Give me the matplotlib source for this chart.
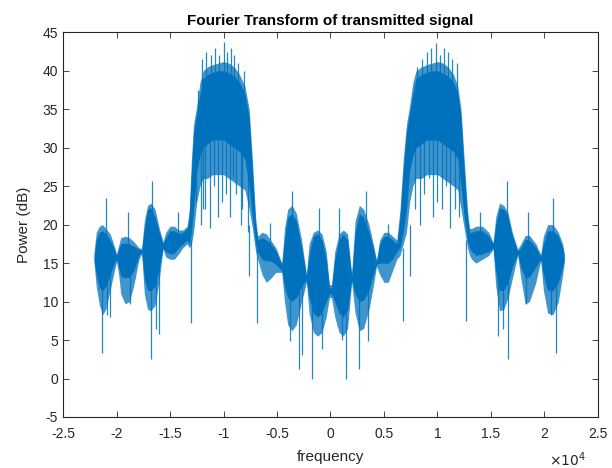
import matplotlib
matplotlib.use("Agg")
import matplotlib.pyplot as plt
from matplotlib.ticker import FuncFormatter

plt.rcParams['font.family'] = ['Liberation Sans', 'DejaVu Sans']
plt.rcParams['axes.unicode_minus'] = False

# Envelope anchors (frequency in kHz)
freq_khz = [-22.1, -21.9, -21.6, -21.3, -21.0, -20.6, -20.2, -20.0, -19.8, -19.6,
            -19.2, -18.8, -18.4, -17.9, -17.65, -17.4, -17.1, -16.8, -16.4, -16.0,
            -15.65, -15.4, -15.0, -14.6, -14.2, -13.8, -13.4, -13.2, -13.0, -12.8,
            -12.5, -12.2, -11.9, -11.5, -11.0, -10.5, -10.0, -9.5, -9.0, -8.5,
            -8.0, -7.6, -7.3, -7.0, -6.8, -6.4, -6.0, -5.6, -5.1, -4.55,
            -4.3, -4.0, -3.6, -3.2, -2.7, -2.25, -2.0, -1.6, -1.2, -0.8,
            -0.4, -0.1, 0.1, 0.4, 0.8, 1.2, 1.6, 1.98, 2.3, 2.7,
            3.1, 3.6, 4.0, 4.3, 4.6, 5.0, 5.4, 5.8, 6.2, 6.5,
            6.8, 7.1, 7.4, 7.7, 8.0, 8.5, 9.0, 9.5, 10.0, 10.5,
            11.0, 11.5, 11.9, 12.2, 12.5, 12.8, 13.0, 13.2, 13.6, 14.2,
            14.8, 15.2, 15.45, 15.8, 16.2, 16.6, 17.0, 17.5, 17.8, 18.2,
            18.6, 19.2, 19.65, 19.9, 20.3, 20.8, 21.3, 21.7, 21.85]

core_hi = [16.0, 18.0, 19.0, 19.2, 18.8, 18.0, 16.8, 16.0, 16.8, 17.5,
           17.6, 17.5, 17.2, 16.8, 16.7, 19.5, 22.0, 22.2, 21.0, 19.0,
           17.5, 18.3, 19.2, 19.2, 18.8, 19.0, 19.5, 21.0, 27.0, 32.0,
           34.5, 37.0, 39.0, 39.5, 39.8, 40.0, 40.0, 39.7, 39.3, 38.5,
           37.0, 34.0, 27.0, 20.0, 18.0, 18.3, 18.0, 17.5, 16.6, 14.8,
           18.0, 21.0, 21.4, 20.5, 17.0, 13.3, 16.0, 18.5, 18.8, 18.0,
           15.5, 11.8, 11.8, 15.5, 18.0, 18.8, 18.0, 13.3, 19.0, 21.4,
           21.0, 19.0, 17.0, 15.2, 17.5, 18.5, 18.5, 18.0, 17.5, 21.0,
           27.0, 32.0, 34.5, 37.0, 39.0, 39.5, 39.8, 40.0, 40.0, 39.7,
           39.3, 38.5, 37.0, 34.0, 27.0, 21.0, 19.0, 19.0, 19.2, 19.2,
           18.5, 17.5, 20.0, 22.2, 22.0, 21.0, 18.5, 16.6, 17.0, 18.1,
           18.0, 17.0, 15.9, 17.5, 19.2, 19.2, 18.5, 17.0, 16.0]

core_lo = [15.4, 13.5, 11.8, 11.4, 12.0, 13.5, 15.0, 15.5, 14.5, 13.3,
           13.1, 13.2, 14.0, 16.0, 16.4, 13.0, 11.5, 11.4, 12.0, 14.5,
           17.0, 16.5, 16.2, 16.3, 17.0, 17.5, 18.0, 17.5, 19.0, 22.0,
           27.0, 29.0, 30.0, 30.5, 31.0, 31.0, 31.0, 30.5, 30.0, 29.5,
           28.5, 25.0, 21.0, 17.5, 16.5, 15.5, 15.3, 15.3, 14.8, 14.0,
           12.0, 10.5, 10.0, 10.5, 12.0, 12.8, 10.5, 8.5, 8.0, 8.5,
           10.0, 11.0, 11.0, 10.0, 8.5, 8.0, 9.0, 12.8, 11.0, 10.0,
           10.2, 11.5, 13.5, 14.8, 15.0, 15.0, 15.0, 15.5, 16.5, 17.0,
           19.0, 22.0, 27.0, 29.0, 30.0, 30.5, 31.0, 31.0, 31.0, 30.5,
           30.0, 29.5, 28.5, 25.0, 21.0, 18.0, 17.0, 16.5, 16.0, 16.2,
           16.5, 17.0, 14.0, 11.4, 11.5, 12.5, 14.5, 16.2, 14.5, 13.1,
           13.2, 14.5, 15.5, 13.5, 11.5, 11.4, 12.5, 14.5, 15.4]

out_hi = [16.4, 19.0, 19.8, 20.0, 19.5, 18.8, 17.2, 16.2, 17.3, 18.3,
          18.5, 18.3, 17.8, 17.0, 16.9, 20.5, 22.5, 22.8, 22.0, 19.5,
          17.8, 19.0, 19.8, 19.8, 19.3, 19.3, 19.8, 22.0, 28.5, 33.0,
          35.5, 38.5, 40.0, 40.5, 40.8, 41.0, 41.2, 41.0, 40.5, 39.5,
          38.0, 35.0, 28.5, 21.0, 18.5, 19.0, 18.8, 18.0, 17.0, 15.0,
          19.5, 22.0, 22.5, 21.5, 18.0, 13.6, 17.5, 19.0, 19.3, 18.8,
          16.5, 12.2, 12.2, 16.5, 18.8, 19.3, 18.8, 13.6, 20.5, 22.5,
          22.0, 20.0, 17.5, 15.4, 18.0, 19.0, 19.0, 18.5, 18.0, 22.0,
          28.5, 33.0, 35.5, 38.5, 40.0, 40.5, 40.8, 41.0, 41.2, 41.0,
          40.5, 39.5, 38.0, 35.0, 28.5, 22.0, 19.5, 19.5, 19.8, 19.8,
          19.0, 17.7, 21.0, 22.8, 22.5, 21.5, 19.0, 16.8, 17.5, 18.6,
          18.6, 17.5, 16.1, 18.5, 20.0, 20.0, 19.0, 17.5, 16.3]

out_lo = [15.0, 12.0, 9.5, 8.3, 9.0, 11.5, 14.0, 15.2, 13.5, 11.0,
          9.7, 10.0, 12.0, 15.5, 16.2, 11.0, 9.0, 8.8, 9.5, 13.0,
          16.8, 15.8, 15.5, 15.5, 16.2, 17.0, 17.5, 17.0, 17.5, 19.0,
          23.0, 25.0, 26.0, 26.0, 26.5, 26.5, 26.5, 26.0, 25.5, 25.0,
          24.5, 22.0, 19.5, 16.5, 15.5, 13.5, 12.5, 13.0, 13.8, 13.8,
          10.0, 7.0, 6.2, 7.0, 10.0, 12.5, 8.5, 6.0, 5.5, 6.0,
          8.0, 10.5, 10.5, 8.0, 6.0, 5.5, 6.5, 12.5, 8.5, 6.2,
          6.5, 9.0, 12.0, 14.6, 13.5, 12.5, 12.5, 14.0, 15.5, 16.0,
          17.5, 19.0, 23.0, 25.0, 26.0, 26.0, 26.5, 26.5, 26.5, 26.0,
          25.5, 25.0, 24.5, 22.0, 19.5, 17.0, 16.0, 15.5, 15.0, 15.5,
          16.0, 16.8, 12.0, 8.8, 9.0, 10.5, 13.0, 16.0, 13.0, 9.7,
          10.0, 12.5, 15.3, 11.5, 8.5, 8.3, 10.0, 13.5, 15.0]

# Isolated spikes: frequency (kHz), bottom, top (dB)
spike_khz = [-21.35, -21.0, -20.9, -20.6, -18.7, -18.9, -16.8, -16.7, -16.3, -16.0,
             -14.3, -13.0, -12.6, -12.4, -12.1, -12.0, -11.9, -11.7, -11.6, -11.3,
             -11.2, -10.9, -10.8, -10.5, -10.4, -10.1, -10.0, -9.8, -9.7, -9.4,
             -9.3, -9.1, -9.0, -8.8, -8.6, -8.4, -8.3, -8.1, -7.7, -7.6,
             -6.9, -5.65, -3.8, -3.63, -2.94, -2.7, -1.73, -1.07, -0.82, 0.8,
             1.05, 1.45, 2.7, 3.3, 3.5, 5.35, 6.75, 7.4, 7.9, 8.1,
             8.4, 8.6, 8.7, 9.0, 9.2, 9.4, 9.6, 9.9, 10.0, 10.2,
             10.4, 10.6, 10.8, 11.0, 11.2, 11.4, 11.6, 11.8, 12.0, 12.7,
             14.0, 15.7, 16.1, 16.5, 16.6, 18.5, 18.3, 20.8, 21.1, 20.6]
spike_lo = [3.3, 15.0, 8.3, 8.0, 9.7, 17.0, 2.6, 16.0, 6.5, 5.8,
            17.0, 7.2, 23.0, 30.0, 20.0, 35.0, 22.0, 22.0, 35.0, 19.5,
            35.0, 25.0, 35.0, 21.0, 35.0, 23.0, 35.0, 24.0, 35.0, 21.0,
            35.0, 26.0, 35.0, 24.0, 35.0, 20.0, 22.0, 34.0, 19.0, 13.3,
            7.2, 16.0, 4.9, 15.0, 1.3, 3.0, 0.0, 12.0, 3.9, 12.0,
            5.0, 0.0, 1.3, 15.0, 4.9, 16.0, 7.5, 13.3, 22.0, 35.0,
            20.0, 35.0, 24.0, 35.0, 26.0, 35.0, 21.0, 35.0, 23.0, 35.0,
            22.0, 35.0, 25.0, 35.0, 19.5, 35.0, 22.0, 35.0, 21.0, 7.5,
            17.0, 5.5, 6.4, 16.0, 2.6, 17.0, 9.7, 15.0, 3.3, 8.3]
spike_hi = [15.0, 23.4, 15.0, 15.0, 15.0, 21.6, 15.0, 25.7, 15.0, 15.0,
            21.6, 18.0, 33.0, 37.5, 35.0, 41.5, 35.0, 33.0, 42.5, 33.0,
            42.0, 35.0, 43.0, 33.0, 42.0, 33.0, 43.8, 33.0, 42.5, 33.0,
            43.0, 33.0, 42.0, 33.0, 41.0, 33.0, 33.0, 40.0, 30.0, 20.0,
            17.0, 20.2, 15.0, 24.4, 12.0, 12.0, 12.0, 22.2, 12.0, 22.2,
            12.0, 12.0, 12.0, 24.4, 12.0, 20.1, 17.0, 20.0, 33.0, 40.5,
            33.0, 41.5, 33.0, 42.5, 33.0, 43.0, 33.0, 43.6, 33.0, 42.0,
            33.0, 43.0, 33.0, 42.5, 33.0, 41.5, 33.0, 41.0, 33.0, 18.0,
            21.6, 15.0, 15.0, 25.7, 15.0, 21.6, 15.0, 23.4, 15.0, 15.0]

x_ticks = [-25000, -20000, -15000, -10000, -5000, 0, 5000, 10000, 15000, 20000, 25000]
y_ticks = [-5, 0, 5, 10, 15, 20, 25, 30, 35, 40, 45]

color = '#0072BD'
freq = [f * 1000 for f in freq_khz]
spike_f = [f * 1000 for f in spike_khz]

fig = plt.figure(figsize=(6.12, 4.68), dpi=100)
ax = fig.add_axes([0.103, 0.109, 0.874, 0.822])

ax.fill_between(freq, out_lo, out_hi, color=color, alpha=0.75, linewidth=0)
ax.fill_between(freq, core_lo, core_hi, color=color, alpha=1.0, linewidth=0)
ax.vlines(spike_f, spike_lo, spike_hi, color=color, linewidth=0.9, alpha=0.85)

ax.set_xlim(-25000, 25000)
ax.set_ylim(-5, 45)
ax.set_xticks(x_ticks)
ax.set_yticks(y_ticks)
ax.xaxis.set_major_formatter(FuncFormatter(lambda v, p: f'{v / 1e4:g}'))

dark = '#262626'
ax.tick_params(direction='in', top=True, right=True, length=4, width=0.6,
               labelsize=10, colors=dark)
ax.tick_params(axis='x', pad=7)
for s in ax.spines.values():
    s.set_color(dark)
    s.set_linewidth(0.8)

ax.text(0.978, -0.112, r'$\times 10^{4}$', transform=ax.transAxes,
        ha='right', va='center', fontsize=10, color=dark)

ax.set_title('Fourier Transform of transmitted signal', fontsize=11,
             fontweight='bold', color='black', pad=5)
ax.set_xlabel('frequency', fontsize=11, color=dark, labelpad=7)
ax.set_ylabel('Power (dB)', fontsize=11, color=dark, labelpad=8)

fig.savefig('out.png', dpi=100)
